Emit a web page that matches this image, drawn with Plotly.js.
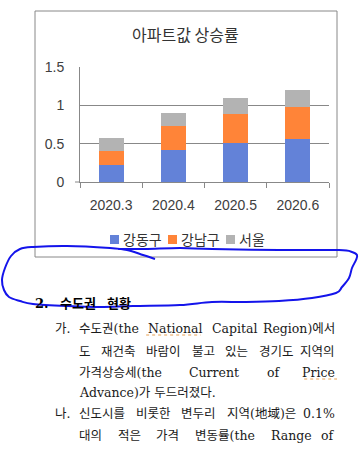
<!DOCTYPE html>
<html><head><meta charset="utf-8">
<script src="https://cdn.plot.ly/plotly-3.0.1.min.js"></script>
<style>html,body{margin:0;padding:0;background:#fff;overflow:hidden}#chart{width:359px;height:454px}</style>
</head><body><div id="chart"></div>
<script>
// ---- chart data ----
const categories = ['2020.3', '2020.4', '2020.5', '2020.6'];
const seriesNames = ['강동구', '강남구', '서울'];
const gangdong = [0.22, 0.42, 0.51, 0.56];
const gangnam = [0.18, 0.31, 0.38, 0.42];
const seoul = [0.17, 0.17, 0.21, 0.22];
const yTickVals = [0, 0.5, 1, 1.5];
const yTickText = ['0', '0.5', '1', '1.5'];
const chartTitle = '아파트값 상승률';
const seriesColors = ['#6382d8', '#ff8438', '#b3b3b3'];

// ---- document text below the chart ----
const headingParts = ['2.', '수도권', '현황'];
const bodyLines = [
  {marker: '가.', text: '수도권(the National Capital Region)에서', justify: true},
  {marker: '', text: '도 재건축 바람이 불고 있는 경기도 지역의', justify: true},
  {marker: '', text: '가격상승세(the Current of Price', justify: true},
  {marker: '', text: 'Advance)가 두드러졌다.', justify: false},
  {marker: '나.', text: '신도시를 비롯한 변두리 지역(地域)은 0.1%', justify: true},
  {marker: '', text: '대의 적은 가격 변동률(the Range of', justify: true}
];

const W = 359, H = 454;
const X = x => x / W;
const Y = y => 1 - y / H;

const traces = [gangdong, gangnam, seoul].map((vals, i) => ({
  type: 'bar', x: categories, y: vals, name: seriesNames[i],
  marker: {color: seriesColors[i], line: {width: 0}},
  hoverinfo: 'x+y+name'
}));

const shapes = [];
const annotations = [];
const tickFont = {family: 'Liberation Sans, Arial, sans-serif', size: 14, color: '#404040'};

// outer chart frame
shapes.push({type: 'rect', xref: 'paper', yref: 'paper', x0: X(35), x1: X(337), y0: Y(257), y1: Y(11),
  line: {color: '#888', width: 1}, layer: 'below'});
// small extension of the zero line to the left
shapes.push({type: 'line', xref: 'paper', yref: 'paper', x0: X(75), x1: X(80), y0: Y(182), y1: Y(182),
  line: {color: '#888', width: 1}});

// title
annotations.push({text: chartTitle, xref: 'paper', yref: 'paper', x: X(186), y: Y(34), showarrow: false,
  xanchor: 'center', yanchor: 'middle', font: {family: 'Noto Sans CJK KR', size: 16, color: '#333'}});

// legend (compact, like the original)
let lx = 110;
seriesNames.forEach((n, i) => {
  shapes.push({type: 'rect', xref: 'paper', yref: 'paper', x0: X(lx), x1: X(lx + 9), y0: Y(244), y1: Y(235),
    fillcolor: seriesColors[i], line: {width: 0}});
  annotations.push({text: n, xref: 'paper', yref: 'paper', x: X(lx + 11), y: Y(238.5), showarrow: false,
    xanchor: 'left', yanchor: 'middle', font: {family: 'Noto Sans CJK KR', size: 14, color: '#333'}});
  lx += 11 + n.length * 14 + 5;
});

// body text
const bodyFamily = 'DejaVu Serif, Noto Sans CJK KR, serif';
const bodySize = 12.5;
const bodyFont = {family: bodyFamily, size: bodySize, color: '#1a1a1a'};
const ctx = document.createElement('canvas').getContext('2d');
ctx.font = bodySize + 'px "DejaVu Serif", "Noto Sans CJK KR", serif';
const measure = t => ctx.measureText(t).width;

const headX = [33, 58, 105];
headingParts.forEach((t, i) => annotations.push({text: '<b>' + t + '</b>', xref: 'paper', yref: 'paper',
  x: X(headX[i]), y: Y(303), showarrow: false, xanchor: 'left', yanchor: 'middle',
  font: {family: bodyFamily, size: 13, color: '#000'}}));

const lineY = [328, 351, 372, 392, 413, 435];
const L = 77, R = 337;
bodyLines.forEach((line, li) => {
  const yy = Y(lineY[li]);
  if (line.marker) annotations.push({text: line.marker, xref: 'paper', yref: 'paper', x: X(53), y: yy,
    showarrow: false, xanchor: 'left', yanchor: 'middle', font: bodyFont});
  if (!line.justify) {
    annotations.push({text: line.text, xref: 'paper', yref: 'paper', x: X(L), y: yy,
      showarrow: false, xanchor: 'left', yanchor: 'middle', font: bodyFont});
    return;
  }
  const words = line.text.split(' ');
  const widths = words.map(measure);
  const total = widths.reduce((a, b) => a + b, 0);
  const gap = (R - L - total) / (words.length - 1);
  let x = L;
  words.forEach((w, i) => {
    const last = i === words.length - 1;
    annotations.push({text: w, xref: 'paper', yref: 'paper', x: X(last ? R : x), y: yy,
      showarrow: false, xanchor: last ? 'right' : 'left', yanchor: 'middle', font: bodyFont});
    x += widths[i] + gap;
  });
});
// spell-check dotted underlines under "National" and "Price"
(function () {
  const w1 = bodyLines[0].text.split(' ');
  const ws = w1.map(measure);
  const g = (R - L - ws.reduce((a, b) => a + b, 0)) / (w1.length - 1);
  const nx = L + ws[0] + g;
  shapes.push({type: 'line', xref: 'paper', yref: 'paper', x0: X(nx), x1: X(nx + ws[1]), y0: Y(335), y1: Y(335),
    line: {color: '#e8a050', width: 1, dash: 'dot'}});
  const pw = measure('Price');
  shapes.push({type: 'line', xref: 'paper', yref: 'paper', x0: X(R - pw), x1: X(R), y0: Y(379), y1: Y(379),
    line: {color: '#e8a050', width: 1, dash: 'dot'}});
})();

// hand-drawn blue loop
const loop = [[155,259],[143,255],[127,250],[110,248],[67,246],[33,247],[20,249],[11,256],[5,268],[2,280],[4,290],
  [9,297],[20,301],[33,304],[67,306],[100,307],[133,306],[180,305],[212,302],[246,302],[279,301],[312,298],[336,293],
  [342,287],[349,278],[352,268],[356,260],[357,255],[352,252],[339,250],[279,250],[212,249],[180,248],[145,249],[118,249]];
function smooth(p) {
  let d = 'M' + X(p[0][0]) + ',' + Y(p[0][1]);
  for (let i = 0; i < p.length - 1; i++) {
    const p0 = p[Math.max(i - 1, 0)], p1 = p[i], p2 = p[i + 1], p3 = p[Math.min(i + 2, p.length - 1)];
    const c1 = [p1[0] + (p2[0] - p0[0]) / 6, p1[1] + (p2[1] - p0[1]) / 6];
    const c2 = [p2[0] - (p3[0] - p1[0]) / 6, p2[1] - (p3[1] - p1[1]) / 6];
    d += ' C' + X(c1[0]) + ',' + Y(c1[1]) + ' ' + X(c2[0]) + ',' + Y(c2[1]) + ' ' + X(p2[0]) + ',' + Y(p2[1]);
  }
  return d;
}
shapes.push({type: 'path', xref: 'paper', yref: 'paper', path: smooth(loop), line: {color: 'rgb(20,20,235)', width: 2}});

const layout = {
  width: W, height: H, margin: {l: 0, r: 0, t: 0, b: 0},
  paper_bgcolor: '#fff', plot_bgcolor: 'rgba(0,0,0,0)',
  barmode: 'stack', bargap: 0.6, showlegend: false,
  xaxis: {domain: [X(80), X(329)], type: 'category', tickson: 'boundaries', ticks: 'outside', ticklen: 5,
    tickcolor: '#888', showline: true, linecolor: '#888', linewidth: 1, showgrid: false, automargin: false,
    tickfont: tickFont, ticklabelstandoff: 10, fixedrange: true},
  yaxis: {domain: [Y(182), Y(67)], range: [0, 1.5], tickvals: yTickVals, ticktext: yTickText, showgrid: true,
    gridcolor: '#888', gridwidth: 1, showline: true, linecolor: '#888', zeroline: false, ticks: '', automargin: false,
    tickfont: tickFont, ticklabelstandoff: 12, fixedrange: true},
  shapes: shapes, annotations: annotations
};
Plotly.newPlot('chart', traces, layout, {displayModeBar: false, staticPlot: true});
</script></body></html>
